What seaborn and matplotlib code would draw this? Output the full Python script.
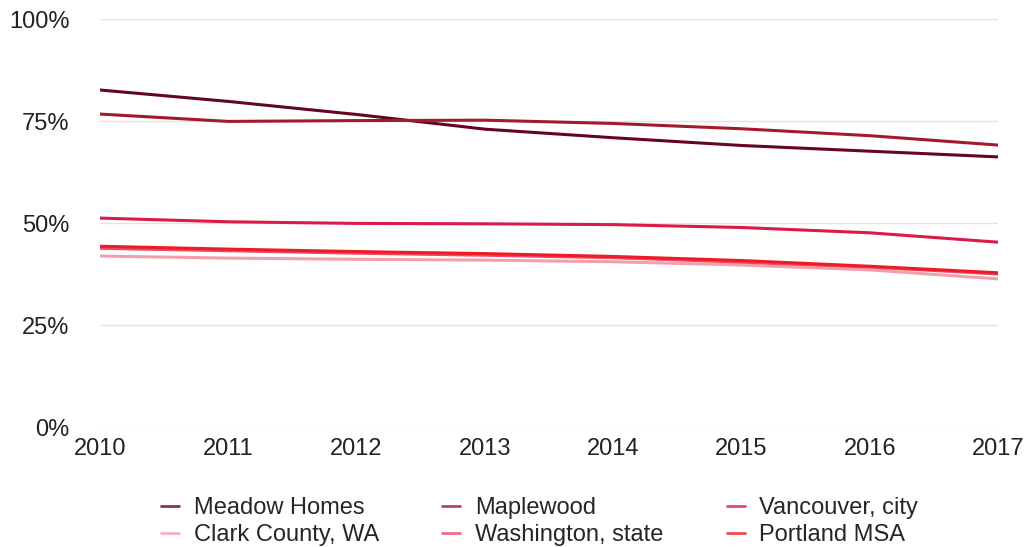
import matplotlib
matplotlib.use("Agg")
import matplotlib.pyplot as plt
import seaborn as sns
import pandas as pd

years = [2010, 2011, 2012, 2013, 2014, 2015, 2016, 2017]
meadow_homes = [82.6, 79.8, 76.6, 73.0, 70.9, 69.0, 67.6, 66.2]
maplewood = [76.7, 74.9, 75.1, 75.2, 74.4, 73.1, 71.4, 69.1]
vancouver_city = [51.2, 50.3, 49.9, 49.8, 49.6, 48.9, 47.6, 45.3]
clark_county = [41.9, 41.4, 41.1, 40.9, 40.5, 39.7, 38.5, 36.3]
washington_state = [43.8, 43.2, 42.6, 42.1, 41.5, 40.4, 39.2, 37.5]
portland_msa = [44.3, 43.6, 43.0, 42.5, 41.8, 40.8, 39.4, 37.8]

series_names = ["Meadow Homes", "Maplewood", "Vancouver, city",
                "Clark County, WA", "Washington, state", "Portland MSA"]
series_values = [meadow_homes, maplewood, vancouver_city,
                 clark_county, washington_state, portland_msa]
palette = ["#650621", "#a31a30", "#dc1a4a", "#f29fab", "#ea4a6a", "#ee1b24"]

y_ticks = [0, 25, 50, 75, 100]
y_labels = ["0%", "25%", "50%", "75%", "100%"]

rows = []
for name, vals in zip(series_names, series_values):
    for yr, v in zip(years, vals):
        rows.append({"year": yr, "value": v, "series": name})
df = pd.DataFrame(rows)

sns.set_theme(style="white")
plt.rcParams["font.family"] = ["Liberation Sans", "DejaVu Sans"]

fig = plt.figure(figsize=(10.29, 5.47), dpi=100)
ax = fig.add_axes([100 / 1029, 1 - 427 / 547, 898 / 1029, 408 / 547])

sns.lineplot(data=df, x="year", y="value", hue="series",
             hue_order=series_names, palette=palette, linewidth=2.2,
             ax=ax, legend=False)

ax.set_xlim(2010, 2017)
ax.set_ylim(0, 100)
ax.set_yticks(y_ticks)
ax.set_yticklabels(y_labels)
ax.set_xticks(years)
ax.set_xticklabels([str(y) for y in years])
ax.tick_params(axis="both", labelsize=17, colors="#222222", length=0)
ax.tick_params(axis="y", pad=22)
ax.tick_params(axis="x", pad=8)
ax.yaxis.grid(True, color="#e2e2e2", linewidth=1)
ax.xaxis.grid(False)
ax.set_axisbelow(True)
for s in ax.spines.values():
    s.set_visible(False)
ax.set_xlabel("")
ax.set_ylabel("")

# legend laid out row by row: three columns, two rows
handles = [plt.Line2D([0], [0], color=c, linewidth=2, alpha=0.8) for c in palette]
order = [0, 3, 1, 4, 2, 5]
fig.legend([handles[i] for i in order], [series_names[i] for i in order],
           loc="upper left", ncol=3,
           bbox_to_anchor=(140 / 1029, 1 - 476 / 547), frameon=False,
           fontsize=17, handlelength=0.76, handletextpad=0.63,
           columnspacing=2.67, labelspacing=0.2)

fig.savefig("out.png", dpi=100)
